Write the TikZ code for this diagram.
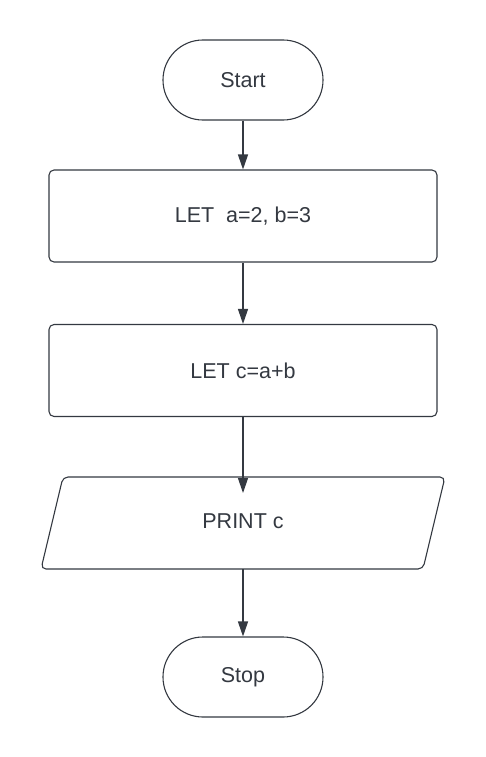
\documentclass[tikz,border=0pt]{standalone}
\usepackage{fontspec}
\setmainfont{Liberation Sans}
\usetikzlibrary{arrows.meta}
\definecolor{ink}{RGB}{52,57,65}
\begin{document}
\begin{tikzpicture}[x=1pt,y=-1pt,
  shapeline/.style={draw=ink,line width=1.1pt},
  label/.style={font=\fontsize{21.5}{25}\selectfont,text=ink},
  term/.style={shapeline,label,rounded corners=39.9pt,minimum width=160pt,minimum height=80pt,inner sep=0pt},
  procbox/.style={shapeline,label,rounded corners=5pt,minimum width=388pt,minimum height=92pt,inner sep=0pt},
  plain/.style={label,inner sep=0pt},
  flow/.style={draw=ink,line width=1.2pt,-{Triangle[length=15pt,width=10pt]}}]
\useasboundingbox (0,0) rectangle (486,757);
\fill[white] (0,0) rectangle (486,757);
\node[term] (start) at (243,80) {Start};
\node[procbox] (let1) at (243,216) {LET\ \ a=2, b=3};
\node[procbox] (let2) at (243,370.5) {LET c=a+b};
\draw[shapeline,rounded corners=5pt] (63,477) -- (445,477) -- (423,569) -- (41,569) -- cycle;
\node[plain] (print) at (243,521) {PRINT c};
\coordinate (ptop) at (243,569);
\coordinate (pin) at (243,493);
\node[term] (stop) at (243,677) {Stop};
\draw[flow] (start) -- (let1);
\draw[flow] (let1) -- (let2);
\draw[flow] (let2) -- (pin);
\draw[flow] (ptop) -- (stop);
\end{tikzpicture}
\end{document}
